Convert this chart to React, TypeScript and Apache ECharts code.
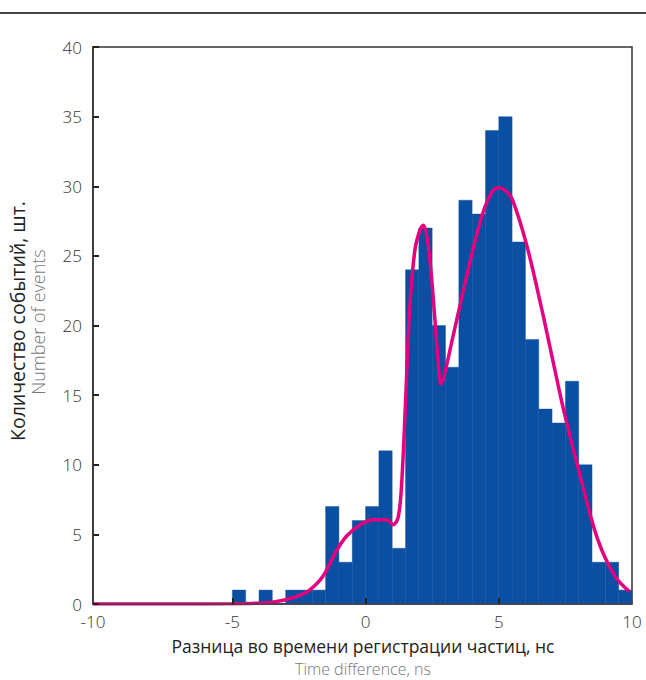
import React, { useEffect, useRef } from "react";
import * as echarts from "echarts";

// Histogram bins: left edges (ns) and counts
const binStarts = [
  -5, -4.5, -4, -3.5, -3, -2.5, -2, -1.5, -1, -0.5,
  0, 0.5, 1, 1.5, 2, 2.5, 3, 3.5, 4, 4.5,
  5, 5.5, 6, 6.5, 7, 7.5, 8, 8.5, 9, 9.5,
];
const binCounts = [
  1, 0, 1, 0, 1, 1, 1, 7, 3, 6,
  7, 11, 4, 24, 27, 20, 17, 29, 28, 34,
  35, 26, 19, 14, 13, 16, 10, 3, 3, 1,
];
const BIN_WIDTH = 0.5;

// Fitted curve (x, y)
const curveX = [
  -10.23, -7, -5, -4, -3.5, -3, -2.5, -2.1, -1.6, -1.1, -0.7, -0.2, 0.3, 0.8,
  1.03, 1.22, 1.35, 1.5, 1.65, 1.85, 2.05, 2.17, 2.3, 2.45, 2.6, 2.72, 2.83,
  2.95, 3.28, 3.85, 4.37, 4.75, 5.0, 5.3, 5.52, 6.03, 6.54, 7.05, 7.45, 8.08,
  8.72, 9.36, 9.9,
];
const curveY = [
  0, 0, 0.02, 0.06, 0.13, 0.3, 0.6, 1.0, 2.0, 3.8, 4.9, 5.7, 6.05, 6.05,
  5.7, 6.2, 8.5, 14.5, 21.0, 25.4, 26.9, 27.2, 26.4, 24.0, 20.5, 17.5, 15.8,
  16.4, 19.2, 24.0, 27.9, 29.6, 29.9, 29.6, 29.0, 25.9, 21.8, 17.3, 13.8, 9.0,
  4.6, 2.0, 0.9,
];

const xTickValues = [-5, 0, 5];
const xLabelValues = [-10.23, -5, 0, 5, 10];
const X_MIN = -10.23;
const X_MAX = 10;

const BAR_COLOR = "#0A4FA2";
const CURVE_COLOR = "#E4007E";
const FONT = "'Open Sans', 'Noto Sans', sans-serif";

export default function App() {
  const ref = useRef<HTMLDivElement>(null);

  useEffect(() => {
    document.body.style.margin = "0";
    const chart = echarts.init(ref.current!, null, { renderer: "svg" });
    const bars = binStarts.map((s, i) => [s, s + BIN_WIDTH, binCounts[i]]);
    const curve = curveX.map((x, i) => [x, curveY[i]]);

    chart.setOption({
      animation: false,
      grid: { left: 93, right: 14, top: 47, bottom: 76, show: true, borderColor: "#333", borderWidth: 1.5, backgroundColor: "transparent" },
      xAxis: {
        type: "value",
        min: X_MIN,
        max: X_MAX,
        z: 5,
        splitLine: { show: false },
        axisLine: { show: true, onZero: false, lineStyle: { color: "#444", width: 1.5 } },
        axisTick: { show: true, inside: true, length: 6, customValues: xTickValues, lineStyle: { color: "#222", width: 2 } },
        axisLabel: {
          customValues: xLabelValues,
          formatter: (v: number) => String(Math.round(v)),
          color: "#333",
          fontSize: 17,
          fontFamily: FONT,
          fontWeight: 300,
          margin: 9,
        },
      },
      yAxis: {
        type: "value",
        min: 0,
        max: 40,
        interval: 5,
        z: 5,
        splitLine: { show: false },
        axisLine: { show: true, onZero: false, lineStyle: { color: "#333", width: 1.5 } },
        axisTick: { show: true, inside: true, length: 6, lineStyle: { color: "#222", width: 2 } },
        axisLabel: { color: "#333", fontSize: 17, fontFamily: FONT, fontWeight: 300, margin: 11 },
      },
      series: [
        {
          type: "custom",
          data: bars,
          encode: { x: [0, 1], y: 2 },
          z: 2,
          renderItem: (params: any, api: any) => {
            const p0 = api.coord([api.value(0), 0]);
            const p1 = api.coord([api.value(1), api.value(2)]);
            return {
              type: "rect",
              shape: { x: p0[0], y: p1[1], width: p1[0] - p0[0], height: p0[1] - p1[1] },
              style: { fill: BAR_COLOR, stroke: BAR_COLOR, lineWidth: 0.4 },
            };
          },
        },
        {
          type: "line",
          data: curve,
          smooth: 0.35,
          showSymbol: false,
          z: 3,
          lineStyle: { color: CURVE_COLOR, width: 3.5 },
        },
      ],
      graphic: [
        { type: "line", shape: { x1: 0, y1: 13, x2: 646, y2: 13 }, style: { stroke: "#444", lineWidth: 2 } },
        {
          type: "text",
          x: 363,
          y: 646,
          style: { text: "Разница во времени регистрации частиц, нс", fill: "#222", fontSize: 17.5, lineHeight: 18, fontFamily: FONT, align: "center", verticalAlign: "middle" },
        },
        {
          type: "text",
          x: 363,
          y: 669,
          style: { text: "Time difference, ns", fill: "#777", fontSize: 16, lineHeight: 16, fontFamily: FONT, fontWeight: 300, align: "center", verticalAlign: "middle" },
        },
        {
          type: "text",
          x: 17,
          y: 321,
          rotation: Math.PI / 2,
          style: { text: "Количество событий, шт.", fill: "#222", fontSize: 19.5, lineHeight: 20, fontFamily: FONT, align: "center", verticalAlign: "middle" },
        },
        {
          type: "text",
          x: 38,
          y: 322,
          rotation: Math.PI / 2,
          style: { text: "Number of events", fill: "#777", fontSize: 18, lineHeight: 19, fontFamily: FONT, fontWeight: 300, align: "center", verticalAlign: "middle" },
        },
      ],
    });
    return () => chart.dispose();
  }, []);

  return <div ref={ref} style={{ width: 646, height: 680 }} />;
}
